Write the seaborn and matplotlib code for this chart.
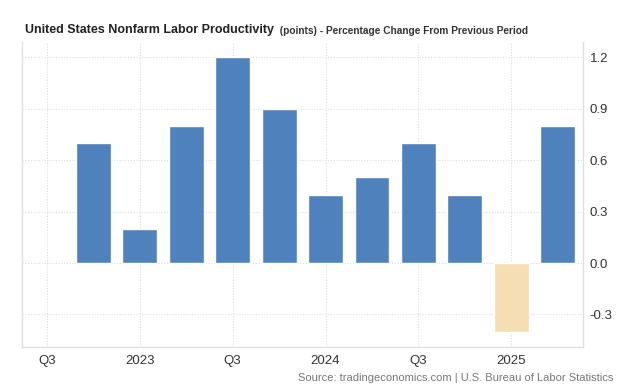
import numpy as np
import pandas as pd
import matplotlib
matplotlib.use("Agg")
import matplotlib.pyplot as plt
import seaborn as sns

quarters = ["2022Q3", "2022Q4", "2023Q1", "2023Q2", "2023Q3", "2023Q4",
            "2024Q1", "2024Q2", "2024Q3", "2024Q4", "2025Q1", "2025Q2"]
values = [np.nan, 0.7, 0.2, 0.8, 1.2, 0.9, 0.4, 0.5, 0.7, 0.4, -0.4, 0.8]
tick_labels = ["Q3", "2023", "Q3", "2024", "Q3", "2025"]
y_ticks = [-0.3, 0.0, 0.3, 0.6, 0.9, 1.2]

sns.set_theme(style="white")
plt.rcParams["font.family"] = ["Liberation Sans", "DejaVu Sans"]

df = pd.DataFrame({"quarter": quarters, "value": values})
df["sign"] = np.where(df["value"] < 0, "neg", "pos")

fig = plt.figure(figsize=(6.24, 3.89), dpi=100)
ax = fig.add_axes([0.035, 0.108, 0.899, 0.784])

sns.barplot(data=df, x="quarter", y="value", hue="sign", order=quarters,
            palette={"pos": "#4f81bd", "neg": "#f5deb3"}, dodge=False,
            width=0.75, legend=False, ax=ax, saturation=1, errorbar=None)

ax.set_xlim(-0.54, 11.54)
ax.set_ylim(-0.49, 1.29)
ax.set_xticks(range(0, 12, 2))
ax.set_xticklabels(tick_labels)
ax.set_yticks(y_ticks)
ax.set_yticklabels([f"{v:.1f}" for v in y_ticks])
ax.yaxis.tick_right()
ax.set_xlabel("")
ax.set_ylabel("")
ax.tick_params(axis="both", length=0, labelsize=9.5, colors="#333333", pad=6)
ax.tick_params(axis="y", pad=5)

ax.grid(True, color="#dddddd", linestyle=(0, (1, 1.5)), linewidth=0.8)
ax.set_axisbelow(True)
for s in ["left", "bottom", "right"]:
    ax.spines[s].set_color("#e0e0e0")
    ax.spines[s].set_linewidth(1)
ax.spines["top"].set_visible(False)

t1 = fig.text(0.04, 0.915, "United States Nonfarm Labor Productivity", fontsize=9,
              fontweight="bold", color="#222222", ha="left", va="baseline")
fig.canvas.draw()
ax.annotate("  (points) - Percentage Change From Previous Period", xy=(1, 0),
            xycoords=t1, fontsize=7.3, fontweight="bold", color="#333333",
            ha="left", va="bottom")
fig.text(0.983, 0.02, "Source: tradingeconomics.com | U.S. Bureau of Labor Statistics",
         fontsize=8, color="#777777", ha="right", va="baseline")

fig.savefig("out.png", dpi=100)
